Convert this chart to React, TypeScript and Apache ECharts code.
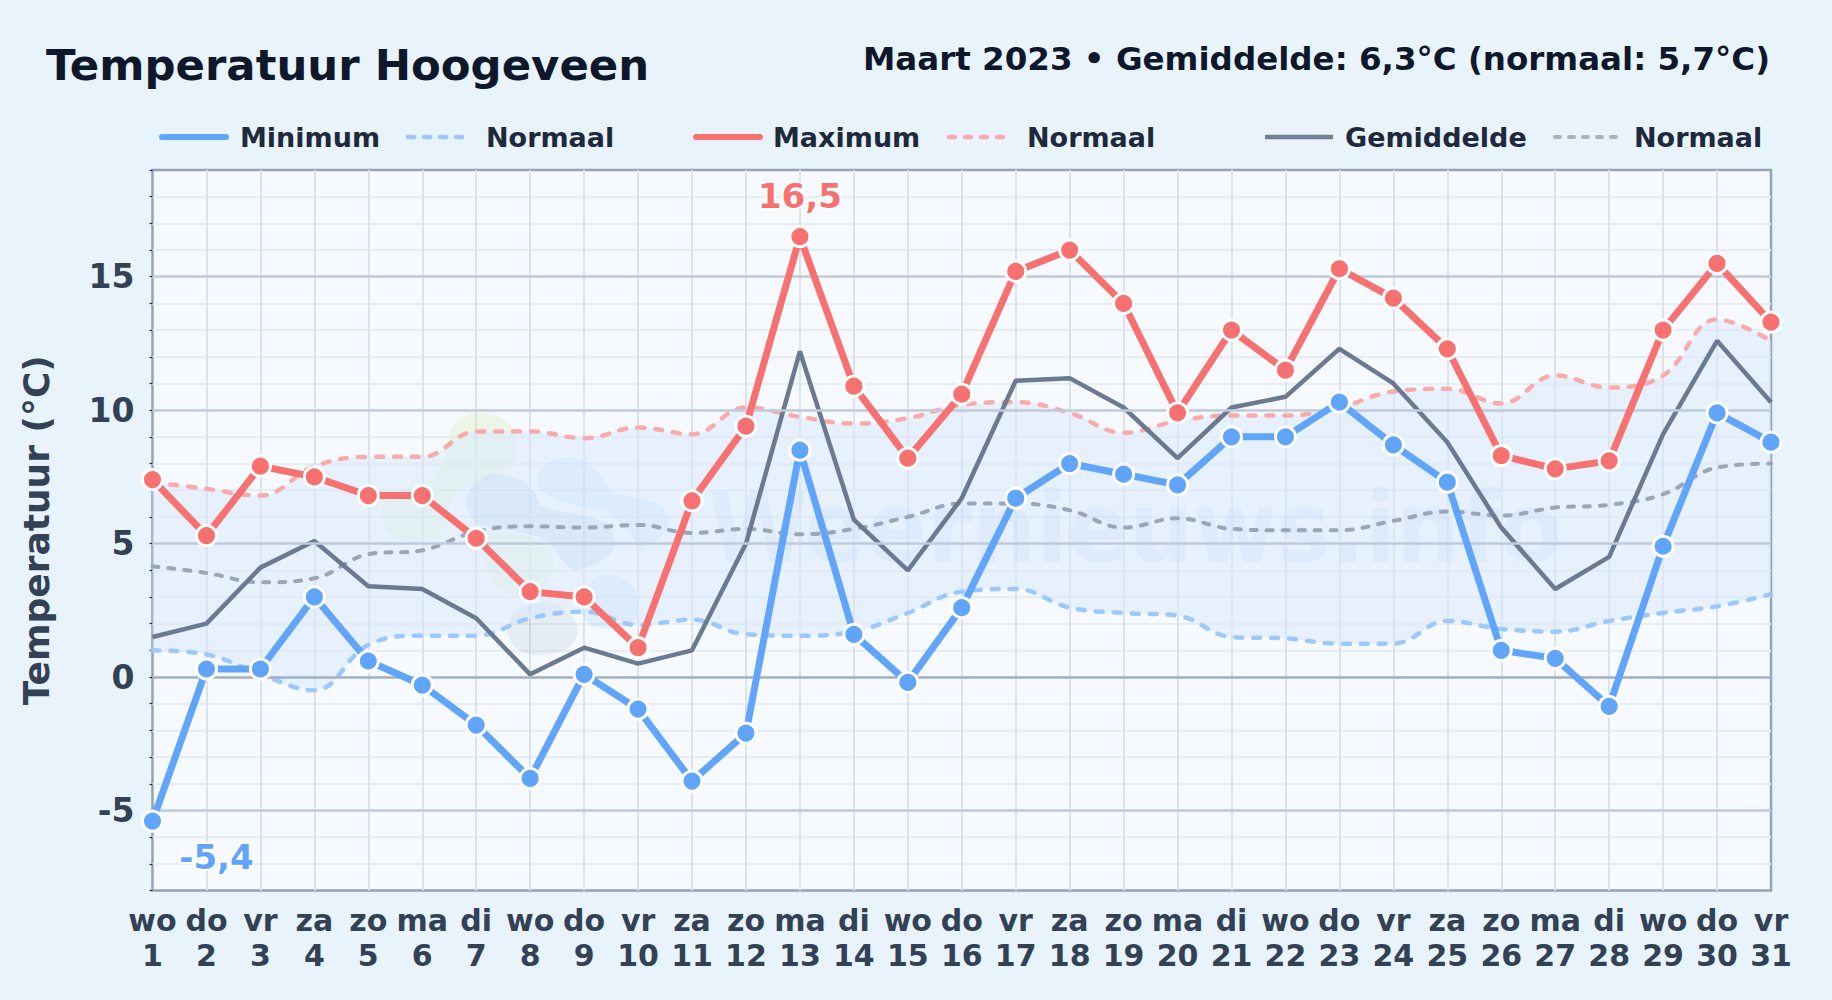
import React, { useEffect, useRef } from "react";
import * as echarts from "echarts";

const weekdays = ["wo","do","vr","za","zo","ma","di","wo","do","vr","za","zo","ma","di","wo","do","vr","za","zo","ma","di","wo","do","vr","za","zo","ma","di","wo","do","vr"];
const days = weekdays.map((d, i) => `${d}\n${i + 1}`);
const minimum = [-5.4,0.3,0.3,3.0,0.6,-0.3,-1.8,-3.8,0.1,-1.2,-3.9,-2.1,8.5,1.6,-0.2,2.6,6.7,8.0,7.6,7.2,9.0,9.0,10.3,8.7,7.3,1.0,0.7,-1.1,4.9,9.9,8.8];
const maximum = [7.4,5.3,7.9,7.5,6.8,6.8,5.2,3.2,3.0,1.1,6.6,9.4,16.5,10.9,8.2,10.6,15.2,16.0,14.0,9.9,13.0,11.5,15.3,14.2,12.3,8.3,7.8,8.1,13.0,15.5,13.3];
const mean = [1.5,2.0,4.1,5.1,3.4,3.3,2.2,0.1,1.1,0.5,1.0,5.0,12.2,5.9,4.0,6.7,11.1,11.2,10.1,8.2,10.1,10.5,12.3,11.0,8.8,5.6,3.3,4.5,9.1,12.6,10.3];
const normalMin = [1.0,0.85,0.1,-0.5,1.2,1.55,1.55,2.2,2.45,1.95,2.15,1.6,1.55,1.7,2.4,3.2,3.3,2.6,2.4,2.3,1.5,1.45,1.25,1.25,2.1,1.8,1.7,2.1,2.4,2.65,3.1];
const normalMax = [7.3,7.05,6.8,7.9,8.25,8.25,9.2,9.2,8.95,9.35,9.1,10.1,9.75,9.5,9.7,10.2,10.3,9.9,9.15,9.6,9.8,9.8,10.1,10.7,10.8,10.25,11.3,10.85,11.3,13.4,12.6];
const normalMean = [4.15,3.9,3.55,3.7,4.6,4.75,5.45,5.65,5.6,5.7,5.4,5.55,5.35,5.55,6.0,6.5,6.5,6.25,5.6,5.95,5.55,5.5,5.5,5.85,6.2,6.05,6.35,6.45,6.85,7.85,8.0];
const majorLines = [-5, 5, 10, 15];

const FONT = "DejaVu Sans";
const BLUE = "#60a5fa", RED = "#f87171", SLATE = "#6b7a90";

const blobs: [string, string, string, number][] = [
  ["wmGreenA", "M480 413 C505 413 518 430 517 450 C516 470 500 478 480 482 C465 486 452 495 448 510 C445 530 440 545 415 543 C390 541 378 525 382 505 C386 488 410 490 430 480 C445 470 445 450 450 432 C455 420 465 413 480 413Z", "#d4ecae", 0.3],
  ["wmGreenB", "M485 535 C510 530 540 535 552 555 C560 580 535 600 510 595 C490 590 480 560 485 535Z", "#d4ecae", 0.3],
  ["wmBlueA", "M490 474 C515 472 535 485 540 505 C560 515 600 512 612 530 C622 550 605 565 575 570 C560 565 560 550 545 540 C525 530 500 530 480 525 C465 515 455 490 490 474Z", "#6f9fd8", 0.2],
  ["wmBlueB", "M565 458 C585 455 600 470 610 490 C625 500 660 495 668 515 C672 535 650 545 640 550 C630 530 615 510 590 508 C565 505 535 495 537 478 C538 465 550 460 565 458Z", "#8cc4f5", 0.2],
  ["wmBlueC", "M600 575 C625 570 640 590 638 610 C636 630 610 632 590 625 C578 615 575 590 600 575Z", "#8cc4f5", 0.2],
  ["wmGray", "M540 603 C565 600 580 620 577 635 C573 652 555 655 535 655 C515 653 505 640 508 625 C512 610 525 605 540 603Z", "#8aa5c0", 0.16],
];
blobs.forEach(([n, d]) => echarts.graphic.registerShape(n, echarts.graphic.extendPath(d, {})));

const legendText = (text: string, x: number) => ({
  type: "text", x, y: 137, z: 10,
  style: { text, fill: "#1e293b", font: `bold 27px '${FONT}'`, textAlign: "left", textVerticalAlign: "middle" },
});
const legendLine = (x1: number, x2: number, stroke: string, lineWidth: number, dash?: number[]) => ({
  type: "line", z: 10,
  shape: { x1, y1: 137, x2, y2: 137 },
  style: { stroke, lineWidth, lineCap: dash ? "round" : (lineWidth > 5 ? "round" : "butt"), lineDash: dash },
});

export default function App() {
  const ref = useRef<HTMLDivElement>(null);
  useEffect(() => {
    document.body.style.margin = "0";
    const chart = echarts.init(ref.current!, null, { renderer: "svg" });
    const plain = { showSymbol: false, silent: true, type: "line" as const, z: 3 };
    const dashed = (name: string, data: number[], color: string, width: number, dash: number[]) => ({
      ...plain, name, data, smooth: 0.4, clip: false,
      lineStyle: { color, width, type: dash, cap: "round" },
    });
    const solid = (name: string, data: any[], color: string) => ({
      type: "line" as const, name, data, z: 6, clip: false,
      symbol: "circle", symbolSize: 20, showSymbol: true,
      itemStyle: { color, borderColor: "#ffffff", borderWidth: 3 },
      lineStyle: { color, width: 7 },
    });
    const callout = (color: string, offset: number[], position: string) => ({
      show: true, position, offset, color,
      fontFamily: FONT, fontWeight: "bold", fontSize: 34,
      textBorderColor: "#ffffff", textBorderWidth: 4,
      formatter: (p: any) => String(p.value).replace(".", ","),
    });
    const option: any = {
      animation: false,
      backgroundColor: "#e8f3fc",
      textStyle: { fontFamily: FONT },
      grid: {
        left: 152.5, right: 61, top: 170, bottom: 109.5, show: true,
        backgroundColor: "#f6fafe", borderColor: "#94a3b8", borderWidth: 2.5,
      },
      xAxis: {
        type: "category", data: days, boundaryGap: false,
        axisLine: { show: false }, axisTick: { show: false },
        axisLabel: {
          interval: 0, margin: 12, color: "#334155", fontFamily: FONT, fontWeight: "bold",
          fontSize: 30, lineHeight: 35,
        },
        splitLine: { show: true, interval: 0, showMinLine: false, showMaxLine: false, lineStyle: { color: "#dbe2ec", width: 2 } },
      },
      yAxis: {
        type: "value", min: -8, max: 19, interval: 1,
        name: "Temperatuur (°C)", nameLocation: "middle", nameGap: 98,
        nameTextStyle: { color: "#334155", fontFamily: FONT, fontWeight: "bold", fontSize: 36 },
        axisLine: { show: false },
        axisTick: { show: true, length: 3, lineStyle: { color: "#1e293b", width: 1.2 } },
        axisLabel: {
          margin: 18, color: "#334155", fontFamily: FONT, fontWeight: "bold", fontSize: 33,
          formatter: (v: number) => (v % 5 === 0 ? String(v) : ""),
        },
        splitLine: { show: true, showMinLine: false, showMaxLine: false, lineStyle: { color: "#e6ecf4", width: 2 } },
      },
      series: [
        { ...plain, z: 1, name: "bandBasis", data: normalMin, smooth: 0.4, stack: "band", stackStrategy: "all",
          lineStyle: { opacity: 0 } },
        { ...plain, z: 1, name: "bandNormaal", data: normalMax.map((v, i) => +(v - normalMin[i]).toFixed(2)), smooth: 0.4,
          stack: "band", stackStrategy: "all", lineStyle: { opacity: 0 }, areaStyle: { color: "#dbeafe", opacity: 0.55 } },
        { ...plain, z: 2, name: "Raster", data: [],
          markLine: {
            silent: true, symbol: "none", label: { show: false },
            data: [
              ...majorLines.map((y) => ({ yAxis: y, lineStyle: { color: "#bfcbdc", width: 2.5, type: "solid" } })),
              { yAxis: 0, lineStyle: { color: "#a3afc2", width: 2.5, type: "solid" } },
            ],
          } },
        dashed("Normaal min", normalMin, "#9cc8fb", 4.5, [7, 11]),
        dashed("Normaal max", normalMax, "#f9abab", 4.5, [7, 11]),
        dashed("Normaal gemiddeld", normalMean, "#9aa6b6", 4, [6, 10]),
        { ...plain, name: "Gemiddelde", data: mean, z: 4, clip: false, lineStyle: { color: SLATE, width: 4.5 } },
        solid("Minimum", minimum.map((v, i) => (i === 0 ? { value: v, label: callout(BLUE, [64, 2], "bottom") } : v)), BLUE),
        solid("Maximum", maximum.map((v) => (v === Math.max(...maximum) ? { value: v, label: callout(RED, [0, -7], "top") } : v)), RED),
      ],
      graphic: [
        ...blobs.map(([n, , fill, opacity]) => ({ type: n, x: 0, y: 0, z: 1, silent: true, style: { fill, opacity } })),
        { type: "text", x: 708, y: 528, scaleY: 1.09, z: 1, silent: true,
          style: { text: "Weernieuws.info", fill: "#60a5fa", opacity: 0.14, font: `bold 90.5px '${FONT}'`, textAlign: "left", textVerticalAlign: "middle" } },
        { type: "text", x: 46, y: 65, z: 10,
          style: { text: "Temperatuur Hoogeveen", fill: "#0f172a", font: `bold 43.4px '${FONT}'`, textAlign: "left", textVerticalAlign: "middle" } },
        { type: "text", x: 1770, y: 59, z: 10,
          style: { text: "Maart 2023 • Gemiddelde: 6,3°C (normaal: 5,7°C)", fill: "#0f172a", font: `bold 32.5px '${FONT}'`, textAlign: "right", textVerticalAlign: "middle" } },
        legendLine(162, 226, BLUE, 6), legendText("Minimum", 240),
        legendLine(408, 463, "#9cc8fb", 4.5, [6, 10]), legendText("Normaal", 486),
        legendLine(696, 760, RED, 6), legendText("Maximum", 773),
        legendLine(949, 1005, "#f9abab", 4.5, [6, 10]), legendText("Normaal", 1027),
        legendLine(1265, 1333, "#718096", 4.5), legendText("Gemiddelde", 1345),
        legendLine(1555, 1618, "#a8b3c1", 4, [5, 9]), legendText("Normaal", 1634),
      ],
    };
    chart.setOption(option);
    return () => chart.dispose();
  }, []);
  return <div ref={ref} style={{ width: 1832, height: 1000 }} />;
}
